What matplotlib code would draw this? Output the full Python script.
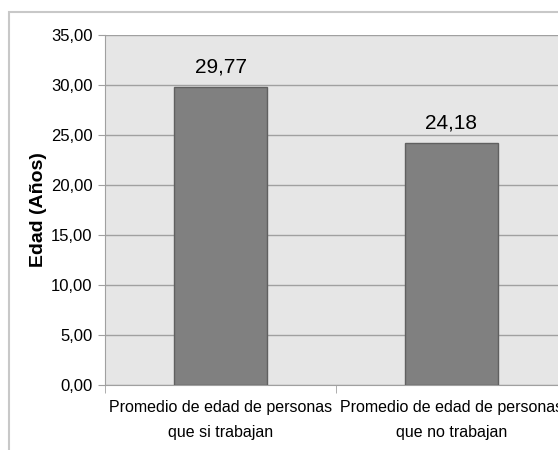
import matplotlib
matplotlib.use("Agg")
import matplotlib.pyplot as plt
from matplotlib.patches import Rectangle
from matplotlib.ticker import FixedLocator, FuncFormatter

# Datos
categorias = ["Promedio de edad de personas\nque si trabajan",
              "Promedio de edad de personas\nque no trabajan"]
valores = [29.77, 24.18]
etiquetas = ["29,77", "24,18"]

fuente = ["Liberation Sans", "DejaVu Sans"]

fig = plt.figure(figsize=(5.58, 4.5), dpi=100)
ax = fig.add_axes([105 / 558, 65 / 450, 462 / 558, 350 / 450])
ax.set_facecolor("#e6e6e6")

# Rahmen aussen
fig.patches.append(Rectangle((8.5 / 558, -0.1), 1.2, (450 - 12) / 450 + 0.1,
                             transform=fig.transFigure, fill=False,
                             edgecolor="#c8c8c8", linewidth=1.5, zorder=0))

x = list(range(len(valores)))
ax.bar(x, valores, width=0.4, color="#808080", edgecolor="#606060",
       linewidth=1, zorder=3)

for xi, v, t in zip(x, valores, etiquetas):
    ax.annotate(t, (xi, v), xytext=(0, 8), textcoords="offset points",
                ha="center", va="bottom", fontsize=15, family=fuente,
                color="black")

ax.set_xlim(-0.5, 1.5)
ax.set_ylim(0, 35)
ax.set_yticks([0, 5, 10, 15, 20, 25, 30, 35])
ax.yaxis.set_major_formatter(FuncFormatter(lambda v, p: f"{v:.2f}".replace(".", ",")))
ax.grid(axis="y", color="#a0a0a0", linewidth=1, zorder=0)

ax.set_xticks(x)
ax.set_xticklabels(categorias, family=fuente, fontsize=11.5, linespacing=1.8)
ax.xaxis.set_minor_locator(FixedLocator([-0.5, 0.5, 1.5]))
ax.tick_params(axis="x", which="major", length=0, pad=11)
ax.tick_params(axis="x", which="minor", length=6, color="#a0a0a0")
ax.tick_params(axis="y", length=5, color="#a0a0a0", pad=4)
for lab in ax.get_yticklabels():
    lab.set_family(fuente)
    lab.set_fontsize(12)

for s in ["top", "right"]:
    ax.spines[s].set_visible(False)
for s in ["left", "bottom"]:
    ax.spines[s].set_color("#a0a0a0")

ax.set_ylabel("Edad (Años)", fontsize=14, fontweight="bold",
              family=fuente, labelpad=3)

fig.savefig("out.png", dpi=100)
